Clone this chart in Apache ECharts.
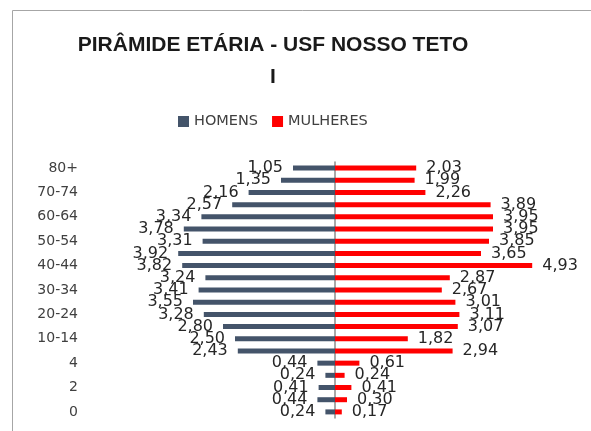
<!DOCTYPE html>
<html>
<head>
<meta charset="utf-8">
<script src="https://cdn.jsdelivr.net/npm/echarts@6/dist/echarts.min.js"></script>
<style>
  html, body { margin: 0; padding: 0; background: #fff; }
  #chart { width: 591px; height: 431px; }
</style>
</head>
<body>
<div id="chart"></div>
<script>
// faixas etárias, de baixo para cima
var ageGroups = ['0', '1', '2', '3', '4', '5-9', '10-14', '15-19', '20-24', '25-29', '30-34',
  '35-39', '40-44', '45-49', '50-54', '55-59', '60-64', '65-69', '70-74', '75-79', '80+'];
// percentuais
var homens = [0.24, 0.44, 0.41, 0.24, 0.44, 2.43, 2.50, 2.80, 3.28, 3.55, 3.41,
  3.24, 3.82, 3.92, 3.31, 3.78, 3.34, 2.57, 2.16, 1.35, 1.05];
var mulheres = [0.17, 0.30, 0.41, 0.24, 0.61, 2.94, 1.82, 3.07, 3.11, 3.01, 2.67,
  2.87, 4.93, 3.65, 3.85, 3.95, 3.95, 3.89, 2.26, 1.99, 2.03];

var chart = echarts.init(document.getElementById('chart'));

function fmt(p) {
  return Math.abs(p.value).toFixed(2).replace('.', ',');
}

var option = {
  backgroundColor: '#ffffff',
  animation: false,
  textStyle: { fontFamily: 'DejaVu Sans' },
  graphic: [{
    type: 'rect',
    shape: { x: 12.5, y: 10.5, width: 700, height: 500 },
    style: { fill: 'none', stroke: '#a6a6a6', lineWidth: 1 },
    silent: true
  }],
  title: {
    text: 'PIRÂMIDE ETÁRIA - USF NOSSO TETO\nI',
    left: 268,
    top: 24,
    textAlign: 'center',
    textStyle: {
      fontFamily: 'Liberation Sans',
      fontWeight: 'bold',
      fontSize: 21,
      lineHeight: 32,
      color: '#1a1a1a'
    }
  },
  legend: {
    left: 173,
    top: 109,
    icon: 'rect',
    itemWidth: 11,
    itemHeight: 11,
    itemGap: 14,
    textStyle: { fontFamily: 'DejaVu Sans', fontSize: 14.5, color: '#404040' },
    data: ['HOMENS', 'MULHERES']
  },
  grid: {
    left: 95,
    right: 16,
    top: 162,
    bottom: 13,
    containLabel: false
  },
  xAxis: {
    type: 'value',
    min: -6,
    max: 6,
    show: false
  },
  yAxis: [{
    type: 'category',
    data: ageGroups,
    axisLine: { show: false, onZero: false },
    axisTick: { show: false },
    axisLabel: {
      interval: 1,
      margin: 17,
      fontSize: 14,
      color: '#404040'
    }
  }, {
    type: 'category',
    data: ageGroups,
    position: 'left',
    axisLine: { show: true, onZero: true, lineStyle: { color: '#8c8c8c', width: 1.5 } },
    axisTick: { show: false },
    axisLabel: { show: false }
  }],
  series: [{
    name: 'HOMENS',
    type: 'bar',
    barWidth: 5,
    barGap: '-100%',
    itemStyle: { color: '#44546a' },
    label: {
      show: true,
      position: 'left',
      distance: 10,
      fontSize: 16,
      color: '#262626',
      formatter: fmt
    },
    data: homens.map(function (v) { return -v; })
  }, {
    name: 'MULHERES',
    type: 'bar',
    barWidth: 5,
    barGap: '-100%',
    itemStyle: { color: '#ff0000' },
    label: {
      show: true,
      position: 'right',
      distance: 10,
      fontSize: 16,
      color: '#262626',
      formatter: fmt
    },
    data: mulheres
  }]
};

chart.setOption(option);
</script>
</body>
</html>
